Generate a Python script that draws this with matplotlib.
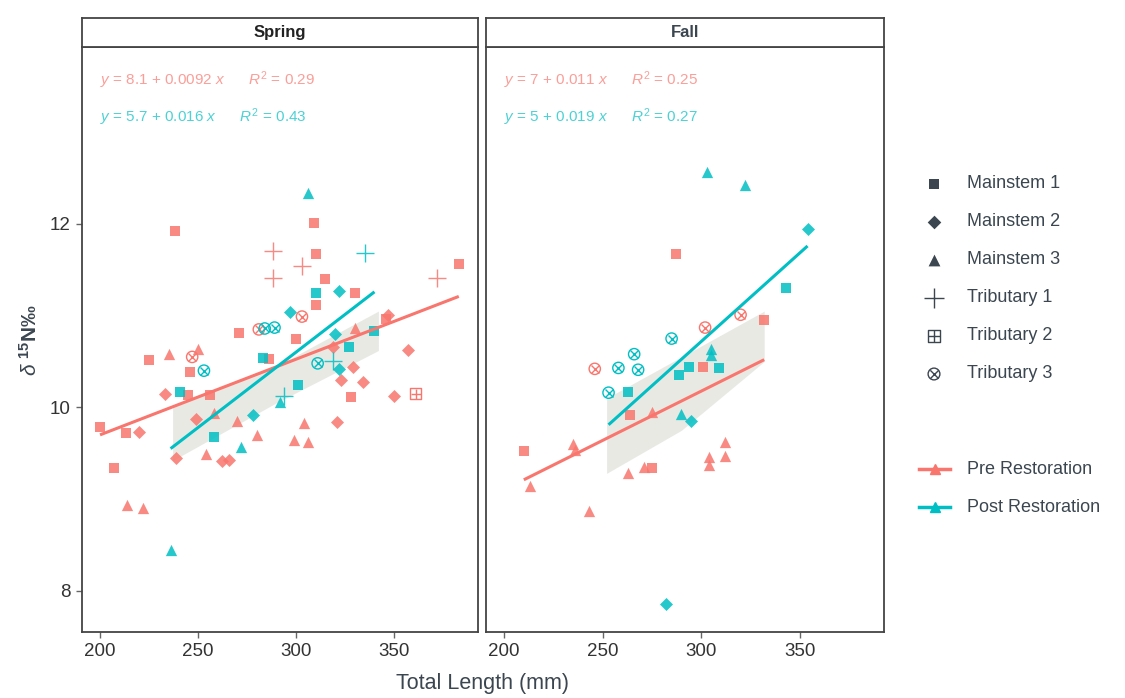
import matplotlib.pyplot as plt
import numpy as np

plt.rcParams['font.family'] = ['Liberation Sans', 'DejaVu Sans']
plt.rcParams['mathtext.fontset'] = 'custom'
plt.rcParams['mathtext.rm'] = 'Liberation Sans'
plt.rcParams['mathtext.it'] = 'Liberation Sans:italic'
plt.rcParams['mathtext.bf'] = 'Liberation Sans:bold'

PRE = '#F8766D'
POST = '#00BFC4'
INK = '#3b4650'

seasons = ['Spring', 'Fall']
sites = ['Mainstem 1', 'Mainstem 2', 'Mainstem 3', 'Tributary 1', 'Tributary 2', 'Tributary 3']
periods = ['Pre Restoration', 'Post Restoration']

# site index: 0..5 as in `sites`, period: 0 = pre, 1 = post
spring_len = [306, 309, 238, 288, 310, 335, 303, 288, 372, 383, 315, 310, 322, 330, 310,
              297, 303, 347, 346, 281, 284, 289, 271, 300, 320, 330, 340, 327, 319, 357,
              283, 286, 225, 235, 250, 247, 311, 319, 329, 322, 246, 253, 323, 334, 301,
              241, 233, 245, 256, 361, 350, 328, 294, 292, 200, 213, 220, 249, 258, 278,
              270, 304, 321, 258, 280, 299, 306, 272, 239, 254, 262, 266, 207, 214, 222, 236]
spring_d15n = [12.34, 12.01, 11.92, 11.70, 11.67, 11.68, 11.54, 11.41, 11.41, 11.56, 11.40, 11.25, 11.27, 11.25, 11.12,
               11.04, 10.99, 11.01, 10.96, 10.85, 10.86, 10.87, 10.81, 10.75, 10.80, 10.86, 10.83, 10.66, 10.66, 10.63,
               10.54, 10.53, 10.52, 10.58, 10.64, 10.55, 10.48, 10.51, 10.44, 10.42, 10.39, 10.40, 10.30, 10.28, 10.24,
               10.17, 10.15, 10.14, 10.14, 10.15, 10.12, 10.11, 10.12, 10.06, 9.79, 9.72, 9.73, 9.87, 9.94, 9.92,
               9.85, 9.83, 9.84, 9.68, 9.70, 9.64, 9.62, 9.57, 9.45, 9.49, 9.42, 9.43, 9.34, 8.94, 8.90, 8.44]
spring_site = [2, 0, 0, 3, 0, 3, 3, 3, 3, 0, 0, 0, 1, 0, 0,
               1, 5, 1, 0, 5, 5, 5, 0, 0, 1, 2, 0, 0, 1, 1,
               0, 0, 0, 2, 2, 5, 5, 3, 1, 1, 0, 5, 1, 1, 0,
               0, 1, 0, 0, 4, 1, 0, 3, 2, 0, 0, 1, 1, 2, 1,
               2, 2, 1, 0, 2, 2, 2, 2, 1, 2, 1, 1, 0, 2, 2, 2]
spring_period = [1, 0, 0, 0, 0, 1, 0, 0, 0, 0, 0, 1, 1, 0, 0,
                 1, 0, 0, 0, 0, 1, 1, 0, 0, 1, 0, 1, 1, 0, 0,
                 1, 0, 0, 0, 0, 0, 1, 1, 0, 1, 0, 1, 0, 0, 1,
                 1, 0, 0, 0, 0, 0, 0, 1, 1, 0, 0, 0, 0, 0, 1,
                 0, 0, 0, 1, 0, 0, 0, 1, 0, 0, 0, 0, 0, 0, 0, 1]

fall_len = [303, 322, 354, 287, 343, 320, 332, 302, 285, 305, 305, 266, 258, 268, 246,
            294, 301, 309, 289, 253, 263, 264, 275, 290, 295, 210, 235, 236, 213, 263,
            271, 275, 304, 304, 312, 312, 243, 282]
fall_d15n = [12.57, 12.42, 11.95, 11.67, 11.30, 11.01, 10.95, 10.87, 10.75, 10.64, 10.57, 10.58, 10.43, 10.41, 10.42,
             10.44, 10.44, 10.43, 10.35, 10.16, 10.17, 9.92, 9.95, 9.93, 9.85, 9.52, 9.60, 9.54, 9.14, 9.28,
             9.35, 9.34, 9.46, 9.37, 9.62, 9.47, 8.87, 7.85]
fall_site = [2, 2, 1, 0, 0, 5, 0, 5, 5, 2, 2, 5, 5, 5, 5,
             0, 0, 0, 0, 5, 0, 0, 2, 2, 1, 0, 2, 2, 2, 2,
             2, 0, 2, 2, 2, 2, 2, 1]
fall_period = [1, 1, 1, 0, 1, 0, 0, 0, 1, 1, 1, 1, 1, 1, 0,
               1, 0, 1, 1, 1, 1, 0, 0, 1, 1, 0, 0, 0, 0, 0,
               0, 0, 0, 0, 0, 0, 0, 1]

# fitted lines (pre, post): end points
spring_fit_x = [[200, 383], [236, 340]]
spring_fit_y = [[9.70, 11.21], [9.55, 11.26]]
fall_fit_x = [[210, 332], [253, 354]]
fall_fit_y = [[9.21, 10.52], [9.81, 11.76]]

# grey confidence shading
spring_band_x = [237, 290, 342]
spring_band_lo = [9.42, 10.05, 10.62]
spring_band_hi = [10.00, 10.45, 11.05]
fall_band_x = [252, 290, 332]
fall_band_lo = [9.28, 9.75, 10.50]
fall_band_hi = [10.10, 10.55, 11.05]

spring_eq = [('8.1', '0.0092', '0.29'), ('5.7', '0.016', '0.43')]
fall_eq = [('7', '0.011', '0.25'), ('5', '0.019', '0.27')]

x_ticks = [200, 250, 300, 350]
y_ticks = [8, 10, 12]

data = {
    'Spring': (spring_len, spring_d15n, spring_site, spring_period,
               spring_fit_x, spring_fit_y, spring_band_x, spring_band_lo, spring_band_hi, spring_eq),
    'Fall': (fall_len, fall_d15n, fall_site, fall_period,
             fall_fit_x, fall_fit_y, fall_band_x, fall_band_lo, fall_band_hi, fall_eq),
}

W, H = 1125, 698
fig = plt.figure(figsize=(W / 100, H / 100), dpi=100)

panel_left = [82, 486]
panel_width = [396, 398]
top, bottom = 47, 632
strip_top = 18


def draw_points(ax, x, y, color, site, s=55, alpha=0.85):
    if site == 0:
        ax.scatter(x, y, marker='s', s=s, color=color, alpha=alpha, lw=0, zorder=3)
    elif site == 1:
        ax.scatter(x, y, marker='D', s=s * 0.8, color=color, alpha=alpha, lw=0, zorder=3)
    elif site == 2:
        ax.scatter(x, y, marker='^', s=s * 1.2, color=color, alpha=alpha, lw=0, zorder=3)
    elif site == 3:
        ax.scatter(x, y, marker='+', s=s * 3.2, color=color, alpha=alpha, lw=1.0, zorder=3)
    elif site == 4:
        ax.scatter(x, y, marker='s', s=s * 1.1, facecolors='none', edgecolors=color, lw=1.0, zorder=3)
        ax.scatter(x, y, marker='+', s=s * 1.1, color=color, lw=1.0, zorder=3)
    else:
        ax.scatter(x, y, marker='o', s=s * 1.2, facecolors='none', edgecolors=color, lw=1.0, zorder=3)
        ax.scatter(x, y, marker='x', s=s * 0.6, color=color, lw=1.0, zorder=3)


axes = []
for i, season in enumerate(seasons):
    (lx, ly, ls, lp, fx, fy, bx, blo, bhi, eq) = data[season]
    ax = fig.add_axes([panel_left[i] / W, 1 - bottom / H, panel_width[i] / W, (bottom - top) / H])
    axes.append(ax)
    lx = np.array(lx)
    ly = np.array(ly)
    ls = np.array(ls)
    lp = np.array(lp)

    ax.fill_between(bx, blo, bhi, color='#c8c8bc', alpha=0.4, lw=0, zorder=1)
    for p, col in enumerate([PRE, POST]):
        for s in range(6):
            m = (ls == s) & (lp == p)
            if m.any():
                draw_points(ax, lx[m], ly[m], col, s)
    for p, col in enumerate([PRE, POST]):
        ax.plot(fx[p], fy[p], color=col, lw=2.2, zorder=4, solid_capstyle='butt')

    for p, col in enumerate([PRE, POST]):
        a, b, r2 = eq[p]
        txt = r'$y$ = ' + a + ' + ' + b + r' $x$' + '      ' + r'$R^2$ = ' + r2
        ax.text(0.045, 0.944 - p * 0.064, txt, transform=ax.transAxes, color=col,
                fontsize=11, alpha=0.7, va='center', ha='left')

    ax.set_xlim(190.8, 392.8)
    ax.set_ylim(7.55, 13.93)
    ax.set_xticks(x_ticks)
    ax.set_yticks(y_ticks)
    ax.tick_params(direction='out', length=4, width=1, color='#666666',
                   labelsize=13.5, labelcolor='#333333', pad=4)
    if i > 0:
        ax.set_yticklabels([])
        ax.tick_params(axis='y', length=0)
    for sp in ax.spines.values():
        sp.set_color('#444444')
        sp.set_linewidth(1.3)

    # facet strip
    sax = fig.add_axes([panel_left[i] / W, 1 - top / H, panel_width[i] / W, (top - strip_top) / H])
    sax.set_xticks([])
    sax.set_yticks([])
    for sp in sax.spines.values():
        sp.set_color('#444444')
        sp.set_linewidth(1.3)
    sax.text(0.5, 0.5, season, ha='center', va='center', fontsize=12,
             fontweight='bold', color='#222222' if i == 0 else INK)

fig.text(30 / W, 1 - 340 / H, r'$\delta\ ^{\mathbf{15}}$N‰', rotation=90, ha='center', va='center',
         fontsize=15, fontweight='bold', color=INK)
fig.text(482 / W, 1 - 683 / H, 'Total Length (mm)', ha='center', va='center', fontsize=15.5, color=INK)

# legends
lax = fig.add_axes([0, 0, 1, 1])
lax.set_xlim(0, W)
lax.set_ylim(H, 0)
lax.axis('off')
legend_y = [184, 222, 260, 298, 336, 374]
for s, (name, yy) in enumerate(zip(sites, legend_y)):
    draw_points(lax, [934], [yy], INK, s, s=60, alpha=1.0)
    lax.text(967, yy, name, va='center', ha='left', fontsize=13, color=INK)

for p, (name, col) in enumerate(zip(periods, [PRE, POST])):
    yy = 469 + p * 38
    lax.plot([919, 950], [yy, yy], color=col, lw=2.5)
    lax.plot([934.5], [yy], marker='^', ms=7, color=col)
    lax.text(967, yy, name, va='center', ha='left', fontsize=13, color=INK)

fig.savefig('out.png', dpi=100)
